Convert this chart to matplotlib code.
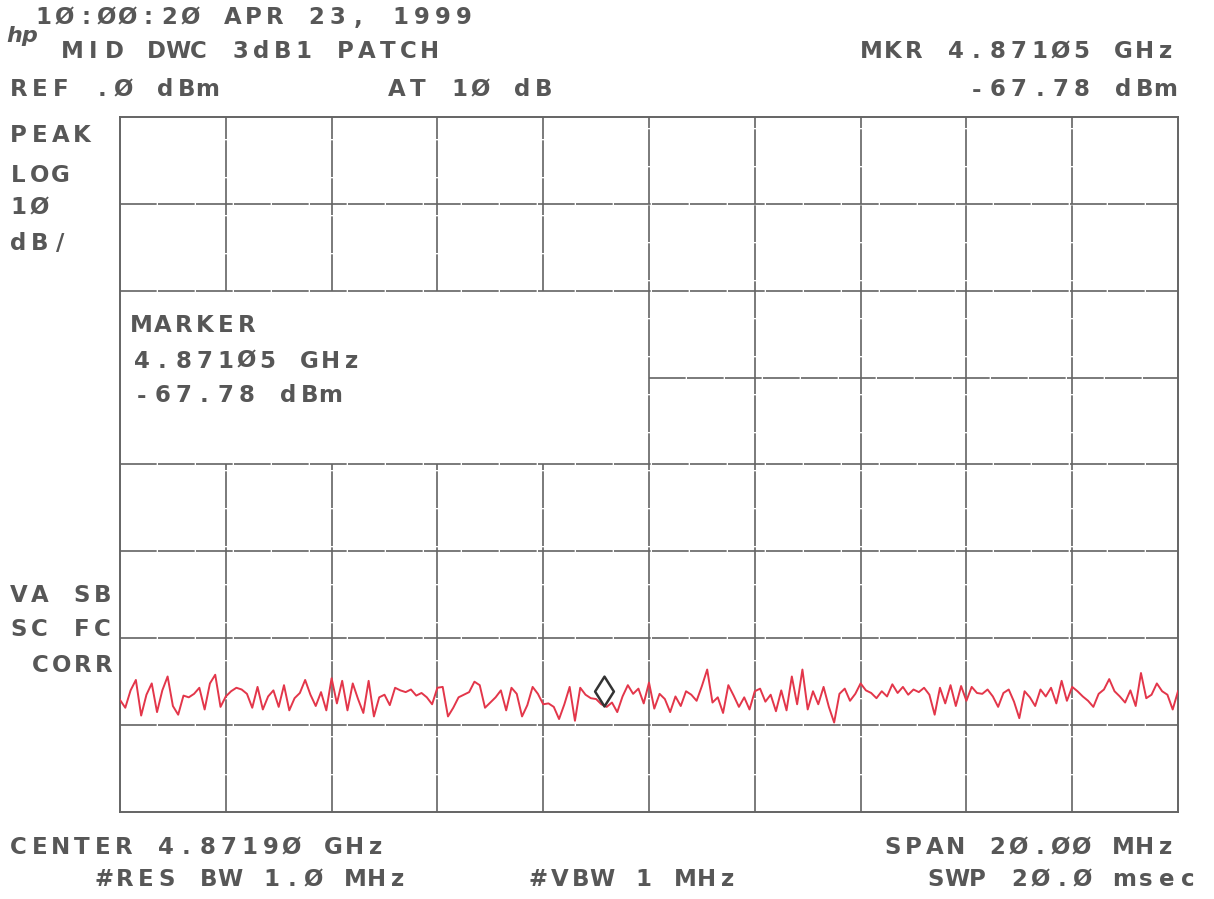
import numpy as np
import matplotlib
matplotlib.use('Agg')
import matplotlib.pyplot as plt
from matplotlib.path import Path
from matplotlib.markers import MarkerStyle

W, H = 1214, 899

# instrument settings
center_ghz = 4.87190
span_mhz = 20.0
ref_dbm = 0.0
db_per_div = 10.0
n_xdiv, n_ydiv = 10, 8
marker_ghz = 4.87105
marker_dbm = -67.78

# peak trace, dBm, 201 sweep points
trace_dbm = [
    -67.1, -68.0, -66.0, -64.8, -68.9, -66.5, -65.2, -68.5, -66.0, -64.4,
    -67.8, -68.8, -66.6, -66.8, -66.4, -65.7, -68.2, -65.2, -64.2, -67.9, -66.7,
    -66.1, -65.7, -65.9, -66.4, -68.0, -65.6, -68.2, -66.7, -66.0, -67.9,
    -65.4, -68.3, -66.9, -66.3, -64.8, -66.5, -67.8, -66.2, -68.3, -64.6,
    -67.5, -64.9, -68.3, -65.2, -67.0, -68.6, -64.9, -69.0, -66.8, -66.5,
    -67.7, -65.7, -66.0, -66.2, -65.9, -66.6, -66.3, -66.8, -67.6, -65.7,
    -65.6, -69.0, -68.0, -66.8, -66.5, -66.2, -65.0, -65.4, -68.0, -67.4,
    -66.8, -66.0, -68.3, -65.7, -66.4, -69.0, -67.7, -65.6, -66.4, -67.6,
    -67.5, -67.9, -69.3, -67.6, -65.6, -69.5, -65.7, -66.5, -66.9, -67.0,
    -67.6, -67.9, -67.4, -68.5, -66.7, -65.4, -66.4, -65.8, -67.5, -65.1,
    -68.1, -66.4, -67.0, -68.5, -66.7, -67.8, -66.1, -66.5, -67.2, -65.5,
    -63.6, -67.4, -66.8, -68.6, -65.4, -66.6, -67.9, -66.8, -68.2, -66.1,
    -65.8, -67.3, -66.5, -68.4, -66.0, -68.3, -64.4, -67.6, -63.6, -68.2,
    -66.1, -67.6, -65.6, -67.9, -69.7, -66.4, -65.8, -67.2, -66.4, -65.2,
    -66.0, -66.3, -66.9, -66.1, -66.7, -65.3, -66.3, -65.6, -66.5, -65.9,
    -66.2, -65.7, -66.5, -68.8, -65.7, -67.5, -65.4, -67.8, -65.5, -67.2,
    -65.6, -66.3, -66.4, -65.9, -66.7, -67.9, -66.3, -65.9, -67.3, -69.2,
    -66.1, -66.8, -67.8, -65.9, -66.7, -65.7, -67.5, -64.9, -67.2, -65.6,
    -66.1, -66.7, -67.2, -67.9, -66.4, -65.9, -64.7, -66.1, -66.7, -67.4,
    -66.0, -67.8, -64.0, -66.9, -66.5, -65.2, -66.1, -66.5, -68.2, -66.1,
]

# annotation strings
header_left = ["1Ø:ØØ:2Ø APR 23, 1999", "MID DWC 3dB1 PATCH", "REF .Ø dBm"]
atten_text = "AT 1Ø dB"
mkr_top = ["MKR 4.871Ø5 GHz", "-67.78 dBm"]
side_top = ["PEAK", "LOG", "1Ø", "dB/"]
side_bottom = ["VA SB", "SC FC", "CORR"]
box_lines = ["MARKER", "4.871Ø5 GHz", "-67.78 dBm"]
footer = ["CENTER 4.8719Ø GHz", "SPAN 2Ø.ØØ MHz", "#RES BW 1.Ø MHz", "#VBW 1 MHz", "SWP 2Ø.Ø msec"]

TXT = '#575757'
GRID = '#646464'
PITCH = 21.0

fig = plt.figure(figsize=(W / 100, H / 100), dpi=100)
ax = fig.add_axes([120 / W, 1 - 812 / H, 1058 / W, 695 / H])

f0 = center_ghz - span_mhz / 2000
f1 = center_ghz + span_mhz / 2000
fdiv = (f1 - f0) / n_xdiv
bottom = ref_dbm - n_ydiv * db_per_div
freqs = np.linspace(f0, f1, len(trace_dbm))

ax.set_xlim(f0, f1)
ax.set_ylim(bottom, ref_dbm)
ax.set_xticks([])
ax.set_yticks([])
for s in ax.spines.values():
    s.set_color(GRID)
    s.set_linewidth(1.4)

# graticule, with the marker readout box (div 0-5, -20..-40 dB) left clear
box_x1 = f0 + 5 * fdiv
box_top, box_bot = ref_dbm - 2 * db_per_div, ref_dbm - 4 * db_per_div
gkw = dict(colors=GRID, linewidth=1.2, linestyles=(0, (22, 0.8)), zorder=1)
for i in range(1, n_xdiv):
    x = f0 + i * fdiv
    if i < 5:
        ax.vlines(x, bottom, box_bot, **gkw)
        ax.vlines(x, box_top, ref_dbm, **gkw)
    else:
        ax.vlines(x, bottom, ref_dbm, **gkw)
for j in range(1, n_ydiv):
    y = ref_dbm - j * db_per_div
    if box_bot < y < box_top:
        ax.hlines(y, box_x1, f1, **gkw)
    else:
        ax.hlines(y, f0, f1, **gkw)

ax.plot(freqs, trace_dbm, color='#e3364a', linewidth=1.4, zorder=4)

# marker diamond sits with its lower tip on the trace
diamond = Path([(0, 0), (0.63, 1), (0, 2), (-0.63, 1), (0, 0)],
               [Path.MOVETO, Path.LINETO, Path.LINETO, Path.LINETO, Path.CLOSEPOLY])
ax.plot([marker_ghz], [marker_dbm], marker=MarkerStyle(diamond), markersize=43,
        markerfacecolor='none', markeredgecolor='#333333', markeredgewidth=1.8,
        linestyle='none', zorder=5)


def hp_text(x_px, y_px, s, align='left'):
    # plotter font: fixed character pitch
    if align == 'right':
        x_px -= PITCH * len(s)
    for i, ch in enumerate(s):
        if ch == ' ':
            continue
        fig.text((x_px + (i + 0.5) * PITCH) / W, 1 - y_px / H, ch,
                 ha='center', va='center', fontsize=16.5, color=TXT,
                 family='DejaVu Sans', fontweight='bold')


hp_text(33, 18, header_left[0])
hp_text(62, 52, header_left[1])
hp_text(8, 90, header_left[2])
hp_text(386, 90, atten_text)
hp_text(1176, 52, mkr_top[0], align='right')
hp_text(1176, 90, mkr_top[1], align='right')
fig.text(6 / W, 1 - 36 / H, 'hp', fontsize=16, fontstyle='italic',
         fontweight='bold', color=TXT, ha='left', va='center')

for s, y in zip(side_top, [135, 175, 208, 243]):
    hp_text(8, y, s)
hp_text(8, 595, side_bottom[0])
hp_text(8, 630, side_bottom[1])
hp_text(30, 665, side_bottom[2])

for s, y in zip(box_lines, [325, 361, 396]):
    hp_text(131, y, s)

hp_text(8, 848, footer[0])
hp_text(1176, 848, footer[1], align='right')
hp_text(93, 880, footer[2])
hp_text(528, 880, footer[3])
hp_text(1198, 880, footer[4], align='right')

plt.savefig('out.png', dpi=100)
plt.close()
